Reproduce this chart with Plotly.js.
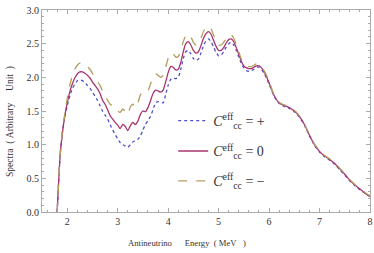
<!DOCTYPE html>
<html><head><meta charset="utf-8">
<script src="https://cdn.plot.ly/plotly-3.0.1.min.js"></script>
<style>html,body{margin:0;padding:0;background:#fff}#c{width:374px;height:253px}</style>
</head><body><div id="c"></div>
<script>
const energy = [1.80,1.83,1.86,1.90,1.95,2.00,2.05,2.10,2.15,2.20,2.25,2.30,2.35,2.40,2.45,2.50,2.55,2.60,2.65,2.70,2.75,2.80,2.85,2.90,2.95,3.00,3.05,3.10,3.15,3.20,3.25,3.30,3.35,3.40,3.45,3.50,3.55,3.60,3.65,3.70,3.75,3.80,3.85,3.90,3.95,4.00,4.05,4.10,4.15,4.20,4.25,4.30,4.35,4.40,4.45,4.50,4.55,4.60,4.65,4.70,4.75,4.80,4.85,4.90,4.95,5.00,5.05,5.10,5.15,5.20,5.25,5.30,5.35,5.40,5.45,5.50,5.55,5.60,5.65,5.70,5.75,5.80,5.85,5.90,5.95,6.00,6.10,6.20,6.30,6.40,6.50,6.60,6.70,6.80,6.90,7.00,7.10,7.20,7.30,7.40,7.50,7.60,7.70,7.80,7.90,8.00];

const spectraPlus = [0,0.45,0.85,1.15,1.40,1.58,1.72,1.83,1.90,1.95,1.96,1.95,1.92,1.88,1.84,1.78,1.72,1.66,1.58,1.50,1.44,1.38,1.30,1.22,1.15,1.09,1.03,1.00,0.98,0.96,1.00,1.04,1.06,1.08,1.13,1.22,1.30,1.36,1.42,1.52,1.62,1.64,1.63,1.62,1.74,1.88,1.97,1.99,1.98,2.00,2.12,2.28,2.38,2.40,2.35,2.28,2.25,2.27,2.36,2.47,2.54,2.57,2.53,2.45,2.37,2.32,2.33,2.38,2.45,2.50,2.52,2.48,2.40,2.30,2.21,2.14,2.10,2.09,2.10,2.12,2.15,2.15,2.12,2.06,1.99,1.90,1.72,1.61,1.57,1.54,1.49,1.41,1.29,1.13,0.99,0.89,0.82,0.77,0.71,0.63,0.55,0.46,0.39,0.33,0.28,0.23];

const spectraZero = [0,0.45,0.85,1.15,1.42,1.62,1.78,1.90,1.99,2.05,2.08,2.08,2.06,2.03,1.99,1.93,1.88,1.83,1.76,1.66,1.60,1.52,1.43,1.38,1.33,1.29,1.24,1.30,1.27,1.21,1.28,1.33,1.30,1.35,1.45,1.50,1.49,1.55,1.65,1.76,1.81,1.80,1.78,1.81,1.93,2.07,2.16,2.15,2.11,2.12,2.22,2.38,2.50,2.53,2.48,2.40,2.36,2.38,2.47,2.58,2.65,2.68,2.64,2.55,2.46,2.40,2.40,2.44,2.51,2.56,2.57,2.53,2.44,2.34,2.24,2.17,2.14,2.13,2.13,2.15,2.17,2.17,2.14,2.08,2.01,1.92,1.73,1.62,1.58,1.55,1.50,1.42,1.30,1.14,1.00,0.90,0.83,0.78,0.72,0.64,0.56,0.47,0.40,0.34,0.28,0.23];

const spectraMinus = [0,0.45,0.86,1.17,1.45,1.68,1.88,2.02,2.12,2.18,2.21,2.21,2.19,2.16,2.12,2.06,2.00,1.94,1.88,1.80,1.72,1.66,1.60,1.58,1.55,1.50,1.48,1.53,1.49,1.45,1.56,1.60,1.55,1.62,1.74,1.78,1.77,1.80,1.90,2.00,2.05,2.03,2.00,2.03,2.15,2.28,2.36,2.35,2.30,2.31,2.40,2.53,2.62,2.64,2.60,2.52,2.48,2.50,2.58,2.68,2.74,2.76,2.72,2.63,2.54,2.48,2.48,2.52,2.58,2.62,2.63,2.58,2.49,2.38,2.27,2.20,2.17,2.16,2.16,2.18,2.20,2.19,2.16,2.10,2.03,1.94,1.74,1.63,1.59,1.56,1.51,1.43,1.31,1.15,1.01,0.91,0.84,0.79,0.73,0.65,0.57,0.48,0.41,0.35,0.29,0.24];

const seriesNames = [
  "<i>C</i><sup>eff</sup><sub>cc</sub> = +",
  "<i>C</i><sup>eff</sup><sub>cc</sub> = 0",
  "<i>C</i><sup>eff</sup><sub>cc</sub> = \u2212"
];
const xTicks = [2,3,4,5,6,7,8];
const yTicks = [0.0,0.5,1.0,1.5,2.0,2.5,3.0];
const yTickText = ["0.0","0.5","1.0","1.5","2.0","2.5","3.0"];
const xTitle = "Antineutrino\u00a0\u00a0\u00a0\u00a0\u00a0\u00a0Energy\u00a0\u00a0(\u00a0MeV\u00a0\u00a0\u00a0)";
const yTitle = "Spectra\u00a0\u00a0(\u00a0Arbitrary\u00a0\u00a0\u00a0\u00a0\u00a0Unit\u00a0\u00a0)";

const colors = ["#5050cc","#a8346e","#b39e5c"];
const dashes = ["dot","solid","dash"];
const series = [spectraPlus, spectraZero, spectraMinus];

const traces = series.map((s,i)=>({
  x: energy, y: s, type:"scatter", mode:"lines",
  name: seriesNames[i],
  line:{color:colors[i], width:1.3, dash:dashes[i], shape:"spline", smoothing:0.6},
  legend: i===0 ? "legend" : ("legend"+(i+1))
}));

const serif = "'Liberation Serif', 'DejaVu Serif', serif";
const legendBase = (y)=>({x:0.40, y:y, xanchor:"left", yanchor:"middle", bgcolor:"rgba(0,0,0,0)",
  font:{family:serif, size:14, color:"#333"}, itemwidth:30});

const axisCommon = {
  showline:true, linecolor:"#aaa", linewidth:1, mirror:"ticks",
  ticks:"inside", ticklen:4, tickcolor:"#aaa", showgrid:false, zeroline:false,
  tickfont:{family:serif, size:10, color:"#333"}
};

const layout = {
  width:374, height:253,
  margin:{l:42, r:4, t:10, b:41},
  paper_bgcolor:"#fff", plot_bgcolor:"#fff",
  showlegend:true,
  legend: legendBase(0.45),
  legend2: legendBase(0.30),
  legend3: legendBase(0.152),
  xaxis: Object.assign({}, axisCommon, {
    range:[1.5,8], tickvals:xTicks, ticktext:xTicks.map(String),
    minor:{dtick:0.2, tick0:0, ticks:"inside", ticklen:2, tickcolor:"#aaa"}
  }),
  yaxis: Object.assign({}, axisCommon, {
    range:[0,3], tickvals:yTicks, ticktext:yTickText,
    minor:{dtick:0.1, tick0:0, ticks:"inside", ticklen:2, tickcolor:"#aaa"}
  }),
  annotations:[
    {text:xTitle, xref:"paper", yref:"paper", x:0.442, y:-0.153, xanchor:"center", yanchor:"middle",
     showarrow:false, font:{family:serif, size:8.6, color:"#333"}},
    {text:yTitle, xref:"paper", yref:"paper", x:-0.098, y:0.45, xanchor:"center", yanchor:"middle",
     textangle:-90, showarrow:false, font:{family:serif, size:9.5, color:"#333"}}
  ]
};

Plotly.newPlot("c", traces, layout, {staticPlot:true, displayModeBar:false});
</script></body></html>
